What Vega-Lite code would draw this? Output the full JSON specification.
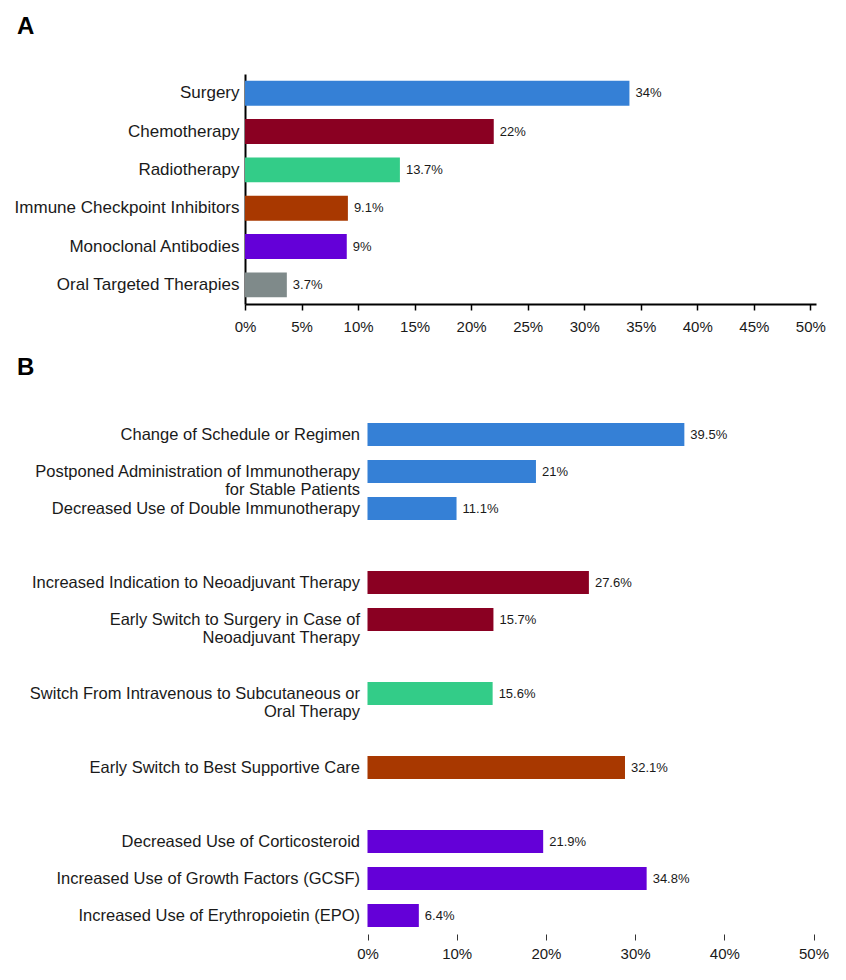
{
  "$schema": "https://vega.github.io/schema/vega-lite/v6.json",
  "background": "white",
  "padding": {"left": 14, "top": 15, "right": 10, "bottom": 10},
  "config": {
    "font": "Liberation Sans",
    "view": {"stroke": null},
    "axis": {"labelColor": "#1a1a1a", "titleColor": "#1a1a1a"},
    "title": {"fontSize": 24, "fontWeight": "bold", "anchor": "start", "frame": "group", "color": "black"}
  },
  "datasets": {
    "therapies": [
      {"therapy": "Surgery", "pct": 34},
      {"therapy": "Chemotherapy", "pct": 22},
      {"therapy": "Radiotherapy", "pct": 13.7},
      {"therapy": "Immune Checkpoint Inhibitors", "pct": 9.1},
      {"therapy": "Monoclonal Antibodies", "pct": 9},
      {"therapy": "Oral Targeted Therapies", "pct": 3.7}
    ],
    "changes": [
      {"change": "Change of Schedule or Regimen", "area": "Immunotherapy", "pct": 39.5},
      {"change": "Postponed Administration of Immunotherapy\nfor Stable Patients", "area": "Immunotherapy", "pct": 21},
      {"change": "Decreased Use of Double Immunotherapy", "area": "Immunotherapy", "pct": 11.1},
      {"change": "Increased Indication to Neoadjuvant Therapy", "area": "Neoadjuvant", "pct": 27.6},
      {"change": "Early Switch to Surgery in Case of\nNeoadjuvant Therapy", "area": "Neoadjuvant", "pct": 15.7},
      {"change": "Switch From Intravenous to Subcutaneous or\nOral Therapy", "area": "Route", "pct": 15.6},
      {"change": "Early Switch to Best Supportive Care", "area": "Supportive care", "pct": 32.1},
      {"change": "Decreased Use of Corticosteroid", "area": "Supportive drugs", "pct": 21.9},
      {"change": "Increased Use of Growth Factors (GCSF)", "area": "Supportive drugs", "pct": 34.8},
      {"change": "Increased Use of Erythropoietin (EPO)", "area": "Supportive drugs", "pct": 6.4}
    ]
  },
  "spacing": 22,
  "resolve": {"scale": {"x": "independent", "y": "independent", "color": "independent"}},
  "vconcat": [
    {
      "title": {"text": "A", "offset": 35, "dx": -228},
      "width": 571,
      "height": 230,
      "data": {"name": "therapies"},
      "encoding": {
        "y": {
          "field": "therapy", "type": "nominal", "sort": null,
          "scale": {"paddingInner": 0.35, "paddingOuter": 0.175},
          "axis": {"title": null, "ticks": false, "labelPadding": 6, "labelFontSize": 17, "labelLimit": 400, "domainColor": "black", "domainWidth": 2}
        },
        "x": {
          "field": "pct", "type": "quantitative",
          "scale": {"domain": [0, 50.5], "nice": false, "zero": true},
          "axis": {"title": null, "grid": false, "values": [0, 5, 10, 15, 20, 25, 30, 35, 40, 45, 50], "labelExpr": "datum.value + '%'", "labelFontSize": 15, "labelPadding": 9, "domainColor": "black", "domainWidth": 2, "tickColor": "black", "tickWidth": 1.5, "tickSize": 6, "labelFlush": false}
        }
      },
      "layer": [
        {
          "mark": {"type": "bar"},
          "encoding": {
            "color": {
              "field": "therapy", "type": "nominal", "legend": null,
              "scale": {
                "domain": ["Surgery", "Chemotherapy", "Radiotherapy", "Immune Checkpoint Inhibitors", "Monoclonal Antibodies", "Oral Targeted Therapies"],
                "range": ["#3580d6", "#8a0022", "#33cc88", "#a83800", "#6400d8", "#7f8a8a"]
              }
            }
          }
        },
        {
          "mark": {"type": "text", "align": "left", "baseline": "middle", "dx": 6, "fontSize": 13, "color": "#1a1a1a", "text": {"expr": "format(datum.pct, '.3~') + '%'"}}
        }
      ]
    },
    {
      "title": {"text": "B", "offset": 36, "dx": -228},
      "width": 568.5,
      "height": 518,
      "data": {"name": "changes"},
      "encoding": {
        "y": {
          "field": "change", "type": "nominal", "sort": null,
          "scale": {
            "paddingInner": 0.38, "paddingOuter": 0.19,
            "domain": [
              "Change of Schedule or Regimen",
              "Postponed Administration of Immunotherapy\nfor Stable Patients",
              "Decreased Use of Double Immunotherapy",
              "gap1",
              "Increased Indication to Neoadjuvant Therapy",
              "Early Switch to Surgery in Case of\nNeoadjuvant Therapy",
              "gap2",
              "Switch From Intravenous to Subcutaneous or\nOral Therapy",
              "gap3",
              "Early Switch to Best Supportive Care",
              "gap4",
              "Decreased Use of Corticosteroid",
              "Increased Use of Growth Factors (GCSF)",
              "Increased Use of Erythropoietin (EPO)"
            ]
          },
          "axis": {"title": null, "ticks": false, "domain": false, "offset": -122.5, "labelPadding": 8, "labelFontSize": 16.5, "labelLineHeight": 18.5, "labelLimit": 500, "labelExpr": "indexof(datum.value, 'gap') === 0 ? '' : split(datum.value, '\\n')"}
        },
        "x": {
          "field": "pct", "type": "quantitative",
          "scale": {"domain": [0, 55.6], "range": [122.5, 568.5], "nice": false, "zero": true},
          "axis": {"title": null, "grid": false, "domain": false, "values": [0, 11.12, 22.24, 33.36, 44.48, 55.6], "labelExpr": "round(datum.value / 1.112) + '%'", "labelFontSize": 15, "labelPadding": 6, "tickColor": "#333333", "tickWidth": 1, "tickSize": 6, "labelFlush": false}
        }
      },
      "layer": [
        {
          "mark": {"type": "bar"},
          "encoding": {
            "color": {
              "field": "area", "type": "nominal", "legend": null,
              "scale": {
                "domain": ["Immunotherapy", "Neoadjuvant", "Route", "Supportive care", "Supportive drugs"],
                "range": ["#3580d6", "#8a0022", "#33cc88", "#a83800", "#6400d8"]
              }
            }
          }
        },
        {
          "mark": {"type": "text", "align": "left", "baseline": "middle", "dx": 6, "fontSize": 13, "color": "#1a1a1a", "text": {"expr": "format(datum.pct, '.3~') + '%'"}}
        }
      ]
    }
  ]
}
